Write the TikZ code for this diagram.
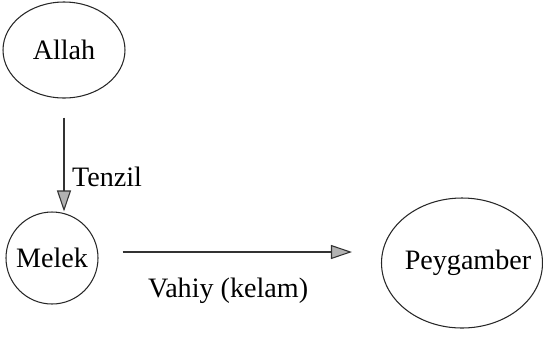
\documentclass[tikz,border=0pt]{standalone}
\usepackage{fontspec}
\setmainfont{Liberation Serif}
\usepackage{tikz}
\usetikzlibrary{arrows.meta,calc,shapes.geometric}

\begin{document}
\begin{tikzpicture}[auto,thick,line width=0.6pt,
    being/.style={ellipse,draw=black!85,inner sep=0pt,font=\fontsize{16}{19}\selectfont},
    tag/.style={font=\fontsize{16}{19}\selectfont},
    arr/.style={draw=black!80,-{Triangle[length=0.42cm,width=0.28cm,fill=gray!60]}}]
    \useasboundingbox (0,0) rectangle (10.86,-6.72);
    \node[being] (allah) [minimum width=2.44cm, minimum height=1.92cm] at (1.28,-1.00) {Allah};
    \node[being] (melek) [circle, minimum size=1.84cm] at (1.04,-5.16) {Melek};
    \node[being] (peygamber) [minimum width=3.22cm, minimum height=2.6cm] at (9.24,-5.26)
        {\raisebox{0.12cm}{\makebox[0pt]{\hspace{0.24cm}Peygamber}}};
    \path
    ([yshift=-0.38cm]allah.south) edge[arr] node[tag, right=1pt, pos=0.63] {Tenzil} (allah.south |- melek.north)
    ([xshift=0.48cm,yshift=0.12cm]melek.east) edge[arr] node[tag, below=0.4cm, pos=0.46] {Vahiy (kelam)}
        ($(melek.east -| peygamber.west)+(-0.58,0.12)$);
\end{tikzpicture}
\end{document}
